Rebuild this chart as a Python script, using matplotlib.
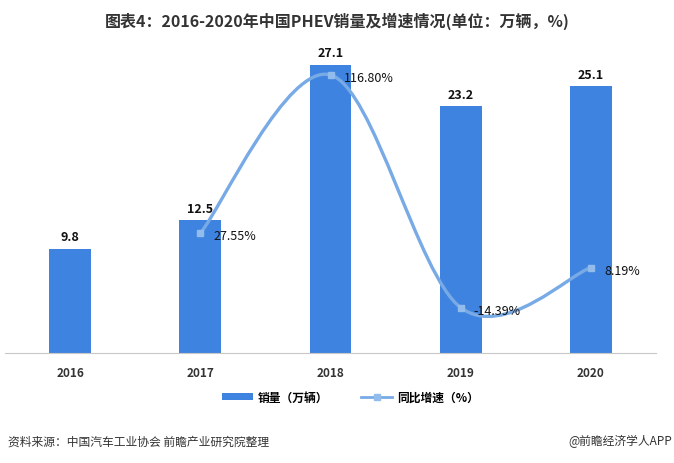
import numpy as np
import matplotlib
matplotlib.use("Agg")
import matplotlib.pyplot as plt
from matplotlib.path import Path
from matplotlib.patches import PathPatch
from matplotlib.lines import Line2D
from matplotlib.patches import Patch

plt.rcParams['font.family'] = ['Noto Sans CJK SC', 'DejaVu Sans']

years = ['2016', '2017', '2018', '2019', '2020']
sales = [9.8, 12.5, 27.1, 23.2, 25.1]
growth_years = [1, 2, 3, 4]
growth = [27.55, 116.80, -14.39, 8.19]
growth_labels = ['27.55%', '116.80%', '-14.39%', '8.19%']

bar_color = '#3F83E0'
line_color = '#78AAE6'

fig = plt.figure(figsize=(6.74, 4.64), dpi=100)
ax = fig.add_axes([0.0074, 0.237, 0.966, 0.688])
x = np.arange(len(years))
ax.bar(x, sales, width=0.32, color=bar_color, zorder=2)
ax.set_xlim(-0.5, len(years) - 0.5)
ax.set_ylim(0, 30)
for xi, v in zip(x, sales):
    ax.text(xi, v + 0.5, f'{v}', ha='center', va='bottom', fontsize=9,
            fontweight='bold', color='#111111')
ax.set_xticks(x)
ax.set_xticklabels(years, fontsize=8.5, fontweight='bold', color='#333333')
ax.tick_params(axis='x', length=0, pad=9)
ax.set_yticks([])
for s in ['top', 'left', 'right']:
    ax.spines[s].set_visible(False)
ax.spines['bottom'].set_color('#c8c8c8')

ax2 = ax.twinx()
ax2.set_ylim(-40, 140)
ax2.set_yticks([])
for s in ['top', 'left', 'right', 'bottom']:
    ax2.spines[s].set_visible(False)

# smooth line (Catmull-Rom style bezier like Excel)
px = np.array(growth_years, dtype=float)
py = np.array(growth, dtype=float)
verts = [(px[0], py[0])]
codes = [Path.MOVETO]
n = len(px)
for i in range(n - 1):
    p0 = (px[i - 1], py[i - 1]) if i > 0 else (px[i], py[i])
    p1 = (px[i], py[i])
    p2 = (px[i + 1], py[i + 1])
    p3 = (px[i + 2], py[i + 2]) if i + 2 < n else (px[i + 1], py[i + 1])
    t = 1 / 6
    c1 = (p1[0] + (p2[0] - p0[0]) * t, p1[1] + (p2[1] - p0[1]) * t)
    c2 = (p2[0] - (p3[0] - p1[0]) * t, p2[1] - (p3[1] - p1[1]) * t)
    verts += [c1, c2, p2]
    codes += [Path.CURVE4] * 3
ax2.add_patch(PathPatch(Path(verts, codes), facecolor='none',
                        edgecolor=line_color, lw=2.4, zorder=3))
ax2.plot(px, py, linestyle='none', marker='s', markersize=5,
         color='#92BCEB', zorder=4)
for xi, v, lab in zip(px, py, growth_labels):
    ax2.text(xi + 0.1, v - 1.5, lab, ha='left', va='center', fontsize=9,
             fontweight='medium', color='#111111', zorder=5)

fig.text(0.5, 0.955, '图表4：2016-2020年中国PHEV销量及增速情况(单位：万辆，%)',
         ha='center', va='center', fontsize=11.5, fontweight='bold', color='#333333')

handles = [Patch(facecolor=bar_color, edgecolor='none'),
           Line2D([0], [0], color=line_color, lw=2, marker='s', markersize=4,
                  markerfacecolor='#92BCEB', markeredgecolor='#92BCEB')]
fig.legend(handles, ['销量（万辆）', '同比增速（%）'], loc='center',
           bbox_to_anchor=(0.52, 0.142), ncol=2, frameon=False,
           prop={'weight': 'bold', 'size': 8.5}, handlelength=2.6,
           handleheight=0.5, columnspacing=2.8, handletextpad=0.4)

fig.text(0.012, 0.048, '资料来源：中国汽车工业协会 前瞻产业研究院整理', ha='left',
         va='center', fontsize=8.5, color='#333333')
fig.text(0.997, 0.048, '@前瞻经济学人APP', ha='right', va='center',
         fontsize=8.5, color='#333333')

fig.savefig('out.png', dpi=100)
